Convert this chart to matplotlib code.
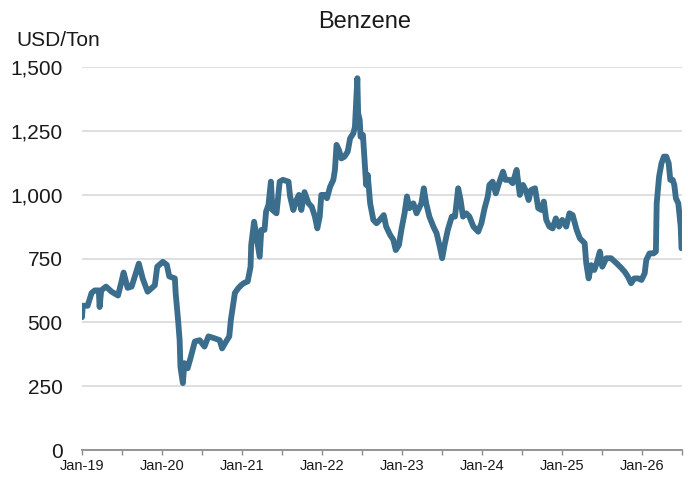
#Benzene price chart, USD/Ton, 2019-2026
import numpy as np
import pandas as pd
import matplotlib
matplotlib.use('Agg')
import matplotlib.pyplot as plt
import matplotlib.dates as mdates
from matplotlib.ticker import FuncFormatter

plt.rcParams['font.family'] = ['Liberation Sans', 'DejaVu Sans']

#data: decimal year and price
year = [2019.00, 2019.01, 2019.07, 2019.12, 2019.16, 2019.21, 2019.22, 2019.24, 2019.30, 2019.37,
        2019.45, 2019.49, 2019.52, 2019.57, 2019.62, 2019.66, 2019.71, 2019.76, 2019.82, 2019.91,
        2019.94, 2020.01, 2020.06, 2020.09, 2020.16, 2020.17, 2020.20, 2020.22, 2020.23, 2020.26,
        2020.28, 2020.32, 2020.36, 2020.41, 2020.47, 2020.53, 2020.58, 2020.66, 2020.72, 2020.75,
        2020.80, 2020.84, 2020.86, 2020.91, 2020.95, 2020.99, 2021.03, 2021.07, 2021.106, 2021.114,
        2021.15, 2021.18, 2021.22, 2021.24, 2021.28, 2021.30, 2021.33, 2021.36, 2021.38, 2021.43,
        2021.47, 2021.51, 2021.58, 2021.60, 2021.64, 2021.68, 2021.71, 2021.74, 2021.78, 2021.83,
        2021.87, 2021.91, 2021.94, 2021.97, 2021.99, 2022.03, 2022.06, 2022.10, 2022.14, 2022.16,
        2022.18, 2022.21, 2022.24, 2022.28, 2022.32, 2022.35, 2022.39, 2022.41, 2022.44, 2022.45,
        2022.47, 2022.48, 2022.51, 2022.53, 2022.55, 2022.57, 2022.60, 2022.64, 2022.68, 2022.72,
        2022.77, 2022.80, 2022.85, 2022.89, 2022.92, 2022.96, 2022.99, 2023.03, 2023.06, 2023.09,
        2023.14, 2023.18, 2023.24, 2023.27, 2023.30, 2023.34, 2023.39, 2023.43, 2023.47, 2023.50,
        2023.53, 2023.57, 2023.62, 2023.66, 2023.70, 2023.73, 2023.76, 2023.80, 2023.84, 2023.89,
        2023.95, 2023.99, 2024.03, 2024.07, 2024.09, 2024.13, 2024.17, 2024.21, 2024.26, 2024.29,
        2024.34, 2024.38, 2024.43, 2024.47, 2024.51, 2024.55, 2024.58, 2024.61, 2024.66, 2024.70,
        2024.74, 2024.77, 2024.80, 2024.84, 2024.88, 2024.92, 2024.96, 2025.00, 2025.05, 2025.09,
        2025.13, 2025.18, 2025.22, 2025.28, 2025.30, 2025.33, 2025.36, 2025.40, 2025.43, 2025.47,
        2025.50, 2025.55, 2025.61, 2025.68, 2025.74, 2025.78, 2025.82, 2025.86, 2025.90, 2025.95,
        2025.99, 2026.03, 2026.05, 2026.09, 2026.14, 2026.17, 2026.18, 2026.21, 2026.24, 2026.27,
        2026.30, 2026.33, 2026.35, 2026.38, 2026.40, 2026.42, 2026.45, 2026.48, 2026.49]
price = [520, 565, 565, 615, 625, 625, 560, 625, 640, 620,
         605, 655, 695, 635, 640, 680, 730, 670, 620, 645,
         718, 737, 725, 680, 672, 615, 510, 430, 325, 262,
         340, 320, 365, 425, 430, 405, 445, 437, 430, 398,
         425, 445, 510, 615, 633, 646, 655, 660, 718, 803,
         894, 836, 757, 862, 862, 934, 960, 1051, 940, 927,
         1051, 1058, 1051, 993, 940, 979, 999, 940, 1010, 966,
         953, 914, 868, 914, 999, 999, 986, 1031, 1058, 1097,
         1195, 1175, 1142, 1149, 1169, 1221, 1240, 1266, 1456, 1319,
         1292, 1227, 1234, 1136, 1038, 1077, 966, 901, 888, 901,
         920, 875, 842, 823, 783, 803, 862, 927, 993, 947,
         966, 927, 966, 1025, 966, 914, 875, 849, 796, 751,
         803, 862, 914, 914, 1025, 979, 914, 927, 914, 875,
         855, 888, 947, 993, 1038, 1051, 1005, 1045, 1090, 1058,
         1058, 1045, 1097, 999, 1038, 1012, 979, 1018, 1025, 947,
         940, 973, 901, 875, 868, 907, 875, 901, 875, 927,
         920, 862, 829, 810, 731, 672, 724, 705, 731, 777,
         718, 751, 751, 731, 712, 698, 679, 653, 672, 672,
         666, 692, 744, 770, 770, 777, 966, 1071, 1123, 1149,
         1149, 1123, 1058, 1058, 1038, 986, 966, 875, 790]
yticks = [0, 250, 500, 750, 1000, 1250, 1500]

dates = pd.Timestamp('2019-01-01') + pd.to_timedelta((np.array(year) - 2019) * 365.25, unit='D')

fig = plt.figure(figsize=(6.88, 4.78), dpi=100)
ax = fig.add_axes([82/688, 28/478, 600/688, 383/478])

ax.plot(dates, price, color='#3b6d8c', lw=4.2, solid_joinstyle='round', solid_capstyle='round')

#axes look
ax.set_ylim(0, 1500)
ax.set_xlim(pd.Timestamp('2019-01-01'), pd.Timestamp('2026-07-01'))
ax.set_yticks(yticks)
ax.yaxis.set_major_formatter(FuncFormatter(lambda v, p: f'{int(v):,}'))
ax.grid(axis='y', color='#d9d9d9', lw=1.2)
ax.set_axisbelow(True)
for s in ['top', 'right', 'left']:
    ax.spines[s].set_visible(False)
ax.spines['bottom'].set_color('#8c8c8c')
ax.spines['bottom'].set_linewidth(1.3)
ax.tick_params(axis='y', length=0, pad=14, labelsize=15, labelcolor='#1a1a1a')
ax.xaxis.set_major_locator(mdates.MonthLocator(bymonth=[1, 7]))
ax.xaxis.set_major_formatter(FuncFormatter(
    lambda v, p: mdates.num2date(v).strftime('Jan-%y') if mdates.num2date(v).month == 1 else ''))
ax.tick_params(axis='x', length=3.5, width=1, color='#8c8c8c', labelsize=10.5, pad=3, labelcolor='#1a1a1a')

fig.text(365/688, 1 - 22/478, 'Benzene', ha='center', va='center', fontsize=17, color='#1a1a1a')
fig.text(16/688, 1 - 40/478, 'USD/Ton', ha='left', va='center', fontsize=15, color='#1a1a1a')

fig.savefig('out.png', dpi=100)
